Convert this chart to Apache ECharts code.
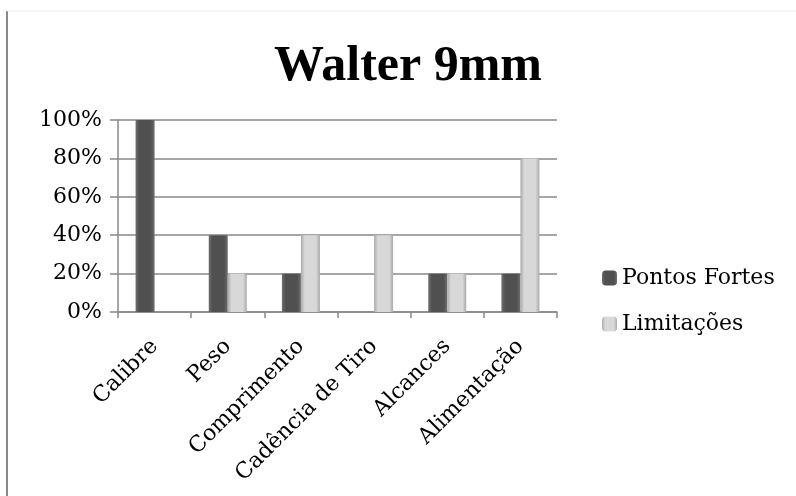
<!DOCTYPE html>
<html><head><meta charset="utf-8">
<script src="https://cdn.jsdelivr.net/npm/echarts@6/dist/echarts.min.js"></script>
<style>html,body{margin:0;padding:0;background:#fff}#c{width:796px;height:496px}</style>
</head><body><div id="c"></div>
<script>
const categories = ['Calibre', 'Peso', 'Comprimento', 'Cadência de Tiro', 'Alcances', 'Alimentação'];
const pontosFortes = [100, 40, 20, 0, 20, 20];
const limitacoes = [0, 20, 40, 40, 20, 80];
const yTicks = [0, 20, 40, 60, 80, 100];

const serif = '"DejaVu Serif", serif';
function grad(edge, mid) {
  return new echarts.graphic.LinearGradient(0, 0, 1, 0, [
    {offset: 0, color: edge}, {offset: 0.2, color: mid}, {offset: 0.5, color: mid},
    {offset: 0.8, color: mid}, {offset: 1, color: edge}
  ]);
}
const chart = echarts.init(document.getElementById('c'), null, {renderer: 'canvas'});
chart.setOption({
  backgroundColor: '#fff',
  animation: false,
  title: {
    text: 'Walter 9mm', left: 269, top: 37,
    textStyle: {fontFamily: '"Liberation Serif", serif', fontWeight: 'bold', fontSize: 50, color: '#000'}
  },
  legend: {
    orient: 'vertical', left: 597, top: 262, itemWidth: 15, itemHeight: 15, itemGap: 24,
    textStyle: {fontFamily: serif, fontSize: 22, color: '#000'},
    data: ['Pontos Fortes', 'Limitações']
  },
  grid: {left: 118, right: 239, top: 120, bottom: 184, containLabel: false},
  xAxis: {
    type: 'category', data: categories,
    axisLine: {lineStyle: {color: '#888', width: 1.5}},
    axisTick: {show: true, length: 6, lineStyle: {color: '#888', width: 1.5}},
    axisLabel: {rotate: 45, fontFamily: serif, fontSize: 22, color: '#000', margin: 31, interval: 0}
  },
  yAxis: {
    type: 'value', min: yTicks[0], max: yTicks[yTicks.length - 1], interval: 20,
    axisLine: {show: true, lineStyle: {color: '#888', width: 1.5}},
    axisTick: {show: true, length: 8, lineStyle: {color: '#888', width: 1.5}},
    splitLine: {lineStyle: {color: '#888', width: 1.5}},
    axisLabel: {formatter: '{value}%', fontFamily: serif, fontSize: 22, color: '#000', margin: 16}
  },
  series: [
    {name: 'Pontos Fortes', type: 'bar', data: pontosFortes, barWidth: 19, barGap: '0%',
     itemStyle: {color: grad('#6e6e6e', '#505050')}},
    {name: 'Limitações', type: 'bar', data: limitacoes, barWidth: 19,
     itemStyle: {color: grad('#a9a9a9', '#d8d8d8')}}
  ],
  graphic: [
    {type: 'line', shape: {x1: 7, y1: 11, x2: 7, y2: 496}, style: {stroke: '#888', lineWidth: 2}},
    {type: 'line', shape: {x1: 7, y1: 11, x2: 796, y2: 11}, style: {stroke: '#eeeeee', lineWidth: 1}}
  ]
});
</script></body></html>
